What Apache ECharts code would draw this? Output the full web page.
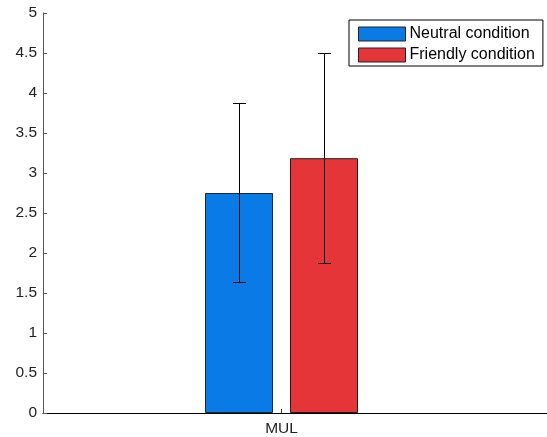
<!DOCTYPE html>
<html><head><meta charset="utf-8">
<script src="https://cdn.jsdelivr.net/npm/echarts@6/dist/echarts.min.js"></script>
<style>html,body{margin:0;padding:0;background:#fff}#c{width:547px;height:437px}</style>
</head><body><div id="c"></div>
<script>
const categories = ['MUL'];
const seriesNames = ['Neutral condition', 'Friendly condition'];
const neutralMean = [2.75];
const neutralLow = [1.635];
const neutralHigh = [3.87];
const friendlyMean = [3.185];
const friendlyLow = [1.87];
const friendlyHigh = [4.50];
const yTicks = [0, 0.5, 1, 1.5, 2, 2.5, 3, 3.5, 4, 4.5, 5];

const colors = ['#0A7AE6', '#E63538'];
const FONT = 'Liberation Sans, Arial, sans-serif';
const chart = echarts.init(document.getElementById('c'), null, {renderer: 'canvas'});

function errSeries(name, low, high, offset) {
  return {
    type: 'custom', name: name + ' err', z: 10, silent: true,
    data: categories.map((c, i) => [i + 1, low[i], high[i]]),
    renderItem: function (params, api) {
      const x = api.value(0);
      const lo = api.coord([x, api.value(1)]);
      const hi = api.coord([x, api.value(2)]);
      const cx = Math.round(lo[0] + offset) + 0.5;
      const cap = 6.5;
      const st = {stroke: '#000', lineWidth: 1, fill: null};
      return {type: 'group', children: [
        {type: 'line', shape: {x1: cx, y1: lo[1], x2: cx, y2: hi[1]}, style: st},
        {type: 'line', shape: {x1: cx - cap, y1: Math.round(lo[1]) + 0.5, x2: cx + cap, y2: Math.round(lo[1]) + 0.5}, style: st},
        {type: 'line', shape: {x1: cx - cap, y1: Math.round(hi[1]) + 0.5, x2: cx + cap, y2: Math.round(hi[1]) + 0.5}, style: st}
      ]};
    }
  };
}

chart.setOption({
  animation: false,
  textStyle: {fontFamily: FONT},
  grid: {left: 43, right: 0, top: 13, bottom: 24},
  legend: {
    data: seriesNames,
    orient: 'vertical', left: 349, top: 20,
    itemWidth: 47, itemHeight: 14, itemGap: 5,
    padding: [6, 8, 3, 9],
    borderColor: '#000', borderWidth: 1,
    icon: 'rect',
    textStyle: {fontFamily: FONT, fontSize: 16, lineHeight: 14, color: '#000', padding: [0, 0, 0, -1]},
    itemStyle: {borderColor: '#222', borderWidth: 1}
  },
  xAxis: {
    type: 'value', min: 0.5, max: 1.5566,
    splitLine: {show: false},
    axisLine: {show: true, lineStyle: {color: '#000', width: 1}},
    axisTick: {show: true, inside: true, length: 4, customValues: categories.map((c, i) => i + 1), lineStyle: {color: '#333'}},
    axisLabel: {show: true, customValues: categories.map((c, i) => i + 1), formatter: v => categories[Math.round(v) - 1] || '', fontSize: 15.5, color: '#222', margin: 8, fontFamily: FONT}
  },
  yAxis: {
    type: 'value', min: 0, max: 5, interval: 0.5,
    splitLine: {show: false},
    axisLine: {show: true, lineStyle: {color: '#555', width: 1}},
    axisTick: {show: true, inside: true, length: 4, lineStyle: {color: '#555'}},
    axisLabel: {fontSize: 15.5, color: '#222', margin: 6, fontFamily: FONT, formatter: v => String(v)}
  },
  series: [
    {name: seriesNames[0], type: 'bar', barWidth: 68, barGap: '25%',
     itemStyle: {color: colors[0], borderColor: '#1a2a3a', borderWidth: 1},
     data: categories.map((c, i) => [i + 1, neutralMean[i]])},
    {name: seriesNames[1], type: 'bar', barWidth: 68, barGap: '25%',
     itemStyle: {color: colors[1], borderColor: '#2a1a1a', borderWidth: 1},
     data: categories.map((c, i) => [i + 1, friendlyMean[i]])},
    errSeries(seriesNames[0], neutralLow, neutralHigh, -42.5),
    errSeries(seriesNames[1], friendlyLow, friendlyHigh, 42.5)
  ]
});
</script></body></html>
